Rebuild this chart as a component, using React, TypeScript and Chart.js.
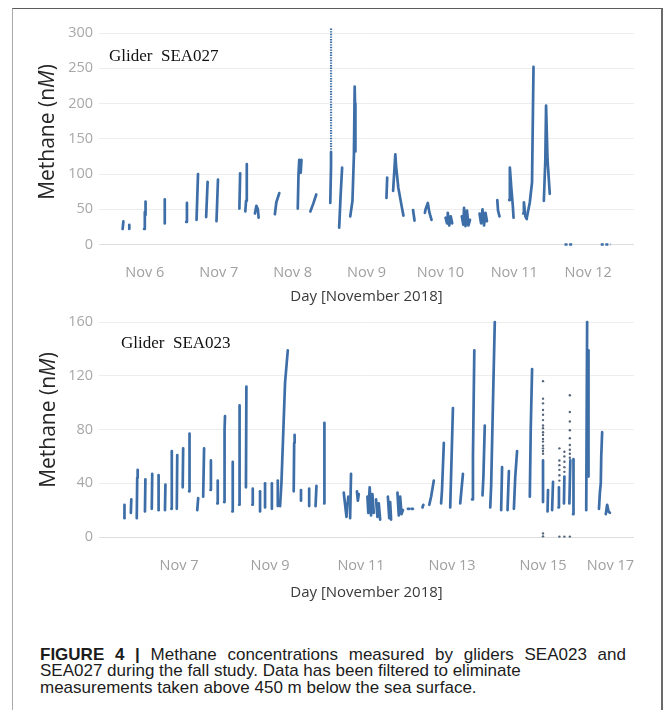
import { useEffect, useRef } from 'react';
import { Chart, registerables } from 'chart.js';

Chart.register(...registerables);

type Pt = [number, number];

// Glider SEA027 — each profile is a polyline of [day of November 2018, methane nM]
const sea027Profiles: Pt[][] = [
  [[5.70, 22], [5.71, 33]],
  [[5.79, 22], [5.79, 28]],
  [[5.99, 22], [6.00, 46], [6.01, 42], [6.01, 61]],
  [[6.27, 30], [6.27, 64]],
  [[6.56, 32], [6.57, 59]],
  [[6.70, 35], [6.72, 100]],
  [[6.83, 39], [6.85, 89]],
  [[6.97, 33], [6.99, 92]],
  [[7.28, 51], [7.29, 101]],
  [[7.36, 47], [7.37, 62], [7.38, 114]],
  [[7.49, 44], [7.51, 55], [7.53, 50], [7.54, 38]],
  [[7.76, 43], [7.78, 60], [7.82, 73]],
  [[8.07, 51], [8.08, 100], [8.09, 120], [8.11, 102], [8.12, 120]],
  [[8.24, 47], [8.28, 58], [8.32, 71]],
  [[8.51, 59], [8.52, 112], [8.52, 131]],
  [[8.63, 24], [8.65, 70], [8.67, 109]],
  [[8.78, 40], [8.81, 62], [8.83, 128], [8.84, 224], [8.845, 200], [8.85, 132]],
  [[9.27, 66], [9.28, 95]],
  [[9.36, 76], [9.39, 128], [9.40, 112], [9.43, 81], [9.48, 52], [9.50, 41]],
  [[9.63, 49], [9.65, 34]],
  [[9.79, 45], [9.80, 50], [9.83, 59], [9.85, 46], [9.88, 35]],
  [[10.07, 38], [10.09, 30], [10.10, 45], [10.12, 27], [10.14, 40], [10.16, 30]],
  [[10.29, 40], [10.31, 28], [10.32, 52], [10.34, 26], [10.36, 48], [10.38, 27], [10.40, 35]],
  [[10.53, 44], [10.55, 30], [10.57, 50], [10.59, 27], [10.61, 45], [10.63, 33]],
  [[10.77, 63], [10.78, 48], [10.80, 40]],
  [[10.93, 63], [10.94, 109], [10.96, 80], [10.98, 55], [10.99, 38]],
  [[11.12, 44], [11.13, 60], [11.15, 40], [11.17, 36]],
  [[11.17, 38], [11.21, 60], [11.24, 88], [11.26, 252]],
  [[11.40, 62], [11.42, 120], [11.43, 197], [11.45, 120], [11.48, 72]],
];
// sparse samples high in the water column, drawn dotted
const sea027Dotted: Pt[][] = [[[8.52, 131], [8.52, 308]]];
// readings logged as zero near the end of the mission
const sea027ZeroRuns: Pt[][] = [
  [[11.68, 0], [11.80, 0]],
  [[12.17, 0], [12.30, 0]],
];
const sea027DayTicks = [6, 7, 8, 9, 10, 11, 12];
const sea027MethaneTicks = [0, 50, 100, 150, 200, 250, 300];

// Glider SEA023
const sea023Profiles: Pt[][] = [
  [[5.80, 14], [5.80, 24]],
  [[5.94, 18], [5.95, 28]],
  [[6.07, 14], [6.08, 44], [6.09, 50]],
  [[6.25, 19], [6.26, 43]],
  [[6.40, 21], [6.41, 47]],
  [[6.55, 20], [6.55, 46]],
  [[6.69, 20], [6.70, 39]],
  [[6.83, 21], [6.84, 64]],
  [[6.95, 21], [6.96, 61]],
  [[7.08, 37], [7.09, 66]],
  [[7.22, 34], [7.23, 77]],
  [[7.40, 20], [7.42, 29]],
  [[7.53, 30], [7.55, 66]],
  [[7.69, 35], [7.70, 57]],
  [[7.84, 25], [7.85, 42]],
  [[7.99, 26], [8.00, 80], [8.01, 90]],
  [[8.17, 19], [8.18, 56]],
  [[8.32, 24], [8.33, 98]],
  [[8.47, 37], [8.48, 112]],
  [[8.61, 24], [8.62, 36]],
  [[8.78, 19], [8.78, 34]],
  [[8.89, 22], [8.89, 40]],
  [[9.04, 21], [9.04, 40]],
  [[9.17, 23], [9.17, 42]],
  [[9.22, 23], [9.25, 40], [9.33, 115], [9.39, 139]],
  [[9.52, 34], [9.53, 70], [9.54, 76]],
  [[9.68, 27], [9.68, 35]],
  [[9.86, 23], [9.86, 36]],
  [[10.00, 23], [10.02, 38]],
  [[10.19, 25], [10.19, 50], [10.20, 85]],
  [[10.62, 33], [10.65, 24], [10.68, 15], [10.72, 30]],
  [[10.76, 14], [10.78, 47]],
  [[10.91, 34], [10.93, 27], [10.95, 32]],
  [[11.14, 30], [11.16, 18], [11.19, 37], [11.22, 16], [11.25, 32], [11.28, 18]],
  [[11.33, 28], [11.36, 15], [11.39, 25], [11.42, 13]],
  [[11.59, 30], [11.62, 14], [11.64, 26], [11.66, 13]],
  [[11.80, 33], [11.83, 16], [11.86, 30], [11.89, 17], [11.92, 20]],
  [[12.03, 21], [12.06, 21]],
  [[12.11, 21], [12.14, 21]],
  [[12.35, 22], [12.37, 24]],
  [[12.50, 24], [12.54, 30], [12.60, 42]],
  [[12.76, 25], [12.78, 35], [12.82, 70]],
  [[12.96, 22], [13.02, 96]],
  [[13.18, 25], [13.24, 47]],
  [[13.44, 28], [13.46, 60], [13.49, 139]],
  [[13.67, 31], [13.69, 45], [13.72, 83]],
  [[13.84, 22], [13.86, 38], [13.90, 100], [13.94, 160]],
  [[14.08, 20], [14.10, 52]],
  [[14.22, 20], [14.25, 49]],
  [[14.36, 21], [14.39, 45], [14.43, 64]],
  [[14.71, 30], [14.73, 80], [14.76, 125]],
  [[15.00, 26], [15.00, 57]],
  [[15.10, 19], [15.11, 35]],
  [[15.20, 20], [15.22, 41]],
  [[15.34, 22], [15.35, 37]],
  [[15.46, 25], [15.47, 45]],
  [[15.58, 25], [15.60, 57]],
  [[15.66, 17], [15.67, 58]],
  [[15.95, 20], [15.97, 160]],
  [[16.00, 45], [16.00, 139]],
  [[16.23, 21], [16.25, 33], [16.27, 40], [16.28, 60], [16.30, 78]],
  [[16.38, 17], [16.41, 24], [16.44, 19], [16.47, 18]],
];
// isolated samples around Nov 15
const sea023Scatter: Pt[] = [
  [15.0, 116], [15.0, 103], [15.0, 99.5], [15.0, 94.5], [15.0, 91], [15.0, 87],
  [15.0, 83], [15.0, 81], [15.0, 78], [15.0, 76], [15.0, 73], [15.0, 71],
  [15.0, 68], [15.0, 66], [15.0, 64], [15.0, 62], [15.0, 2.7], [15.0, 0.5],
  [15.36, 66], [15.36, 57], [15.36, 53.5], [15.36, 50], [15.36, 46], [15.36, 42], [15.36, 0.3],
  [15.47, 63.5], [15.47, 60], [15.47, 56], [15.47, 52], [15.47, 48.5], [15.47, 0.3],
  [15.59, 105.5], [15.59, 93], [15.59, 86], [15.59, 79.5], [15.59, 73.5], [15.59, 68.5],
  [15.59, 65], [15.59, 62], [15.59, 59], [15.59, 0.3],
];
const sea023DayTicks = [7, 9, 11, 13, 15, 17];
const sea023MethaneTicks = [0, 40, 80, 120, 160];

const LINE_BLUE = '#3d6ea7';
const DOT_GREY = '#55667c';
const SANS = "'Open Sans', 'Noto Sans', sans-serif";

interface PanelProps {
  profiles: Pt[][];
  dotted: Pt[][];
  dashed: Pt[][];
  dots: Pt[];
  dayTicks: number[];
  methaneTicks: number[];
  dayRange: [number, number];
  methaneRange: [number, number];
  tickAlign: 'center' | 'inner';
  canvasTop: number;
  areaTop: number;
  xAxisHeight: number;
  tickPad: number;
  titlePad: number;
  yTitleX: number;
  yTitleY: number;
}

const CANVAS_W = 646;
const CANVAS_H = 300;

function MethanePanel(p: PanelProps) {
  const ref = useRef<HTMLCanvasElement | null>(null);

  useEffect(() => {
    if (!ref.current) return;
    const toXY = (pts: Pt[]) => pts.map(([x, y]) => ({ x, y }));
    const datasets: any[] = [
      ...p.profiles.map((prof) => ({
        data: toXY(prof),
        showLine: true,
        borderColor: LINE_BLUE,
        borderWidth: 2.7,
        borderCapStyle: 'round',
        borderJoinStyle: 'round',
        pointRadius: 0,
        tension: 0,
      })),
      ...p.dotted.map((prof) => ({
        data: toXY(prof),
        showLine: true,
        borderColor: LINE_BLUE,
        borderWidth: 2.2,
        borderDash: [1.4, 1.2],
        pointRadius: 0,
      })),
      ...p.dashed.map((prof) => ({
        data: toXY(prof),
        showLine: true,
        borderColor: LINE_BLUE,
        borderWidth: 2.4,
        borderDash: [3, 1.6],
        pointRadius: 0,
      })),
      {
        data: toXY(p.dots),
        showLine: false,
        pointRadius: 1.2,
        pointBackgroundColor: DOT_GREY,
        pointBorderWidth: 0,
      },
    ];

    const [dMin, dMax] = p.dayRange;
    const methaneTitle = {
      id: 'methaneTitle',
      afterDraw(chart: any) {
        const ctx = chart.ctx as CanvasRenderingContext2D;
        const parts: [string, string][] = [
          ['Methane (n', 'normal'],
          ['M', 'italic'],
          [')', 'normal'],
        ];
        const fontFor = (style: string) => `${style} 400 21px ${SANS}`;
        let total = 0;
        for (const [txt, style] of parts) {
          ctx.font = fontFor(style);
          total += ctx.measureText(txt).width;
        }
        ctx.save();
        ctx.translate(p.yTitleX, p.yTitleY);
        ctx.rotate(-Math.PI / 2);
        ctx.fillStyle = '#262626';
        ctx.textBaseline = 'middle';
        ctx.textAlign = 'left';
        let x = -total / 2;
        for (const [txt, style] of parts) {
          ctx.font = fontFor(style);
          ctx.fillText(txt, x, 0);
          x += ctx.measureText(txt).width;
        }
        ctx.restore();
      },
    };

    const chart = new Chart(ref.current, {
      type: 'scatter',
      data: { datasets },
      plugins: [methaneTitle],
      options: {
        animation: false,
        responsive: false,
        maintainAspectRatio: false,
        events: [],
        layout: { padding: { top: p.areaTop, right: 26, bottom: 0, left: 0 } },
        plugins: { legend: { display: false }, tooltip: { enabled: false } },
        scales: {
          x: {
            type: 'linear',
            position: 'bottom',
            min: dMin,
            max: dMax,
            afterBuildTicks: (s: any) => {
              s.ticks = [{ value: dMin }, ...p.dayTicks.map((v) => ({ value: v }))];
            },
            afterFit: (s: any) => {
              s.height = p.xAxisHeight;
              s.paddingLeft = 0;
              s.paddingRight = 0;
              s.paddingTop = 0;
              s.paddingBottom = 0;
            },
            grid: { display: false },
            border: { display: false },
            ticks: {
              autoSkip: false,
              maxRotation: 0,
              align: p.tickAlign,
              padding: p.tickPad,
              color: '#a0a0a0',
              font: { family: SANS, size: 14.5 },
              callback: (v: any) => (v === dMin ? '' : `Nov ${v}`),
            },
            title: {
              display: true,
              text: 'Day [November 2018]',
              color: '#3a3a3a',
              font: { family: SANS, size: 15 },
              padding: { top: 0, bottom: p.titlePad },
            },
          },
          y: {
            type: 'linear',
            min: p.methaneRange[0],
            max: p.methaneRange[1],
            afterBuildTicks: (s: any) => {
              s.ticks = p.methaneTicks.map((v) => ({ value: v }));
            },
            afterFit: (s: any) => {
              s.width = 85;
              s.paddingTop = 0;
              s.paddingBottom = 0;
              s.paddingLeft = 0;
              s.paddingRight = 0;
            },
            grid: {
              drawTicks: false,
              color: (c: any) => (c.tick && c.tick.value === 0 ? '#dedede' : '#ededed'),
              lineWidth: 1,
            },
            border: { display: false },
            ticks: {
              padding: 6,
              color: '#a8a8a8',
              font: { family: SANS, size: 14.5 },
              callback: (v: any) => String(v),
            },
          },
        },
      } as any,
    });
    return () => chart.destroy();
  }, []);

  return (
    <canvas
      ref={ref}
      width={CANVAS_W}
      height={CANVAS_H}
      style={{ position: 'absolute', left: 14, top: p.canvasTop, width: CANVAS_W, height: CANVAS_H }}
    />
  );
}

const gliderLabel: React.CSSProperties = {
  position: 'absolute',
  font: "17px 'Liberation Serif', 'Times New Roman', serif",
  lineHeight: '17px',
  color: '#111',
  whiteSpace: 'pre',
};

export default function App() {
  return (
    <div
      style={{
        position: 'absolute',
        left: 0,
        top: 0,
        width: 663,
        height: 710,
        overflow: 'hidden',
        background: '#fff',
      }}
    >
      <div
        style={{
          position: 'absolute',
          left: 12,
          top: 8,
          width: 651,
          height: 720,
          boxSizing: 'border-box',
          borderTop: '1.5px solid #5c5c5c',
          borderLeft: '1.5px solid #a9a9a9',
          borderRight: '2px solid #6a6a6a',
        }}
      />
      <MethanePanel
        profiles={sea027Profiles}
        dotted={sea027Dotted}
        dashed={sea027ZeroRuns}
        dots={[]}
        dayTicks={sea027DayTicks}
        methaneTicks={sea027MethaneTicks}
        dayRange={[5.38, 12.62]}
        methaneRange={[-10.6, 310]}
        tickAlign="center"
        canvasTop={10}
        areaTop={16}
        xAxisHeight={58}
        tickPad={4.3}
        titlePad={4}
        yTitleX={34}
        yTitleY={122}
      />
      <MethanePanel
        profiles={sea023Profiles}
        dotted={[]}
        dashed={[]}
        dots={sea023Scatter}
        dayTicks={sea023DayTicks}
        methaneTicks={sea023MethaneTicks}
        dayRange={[5.24, 17]}
        methaneRange={[-5.2, 164.5]}
        tickAlign="inner"
        canvasTop={312}
        areaTop={4}
        xAxisHeight={68}
        tickPad={5.3}
        titlePad={10}
        yTitleX={35.5}
        yTitleY={108}
      />
      <div style={{ ...gliderLabel, left: 109, top: 46.5 }}>{'Glider  SEA027'}</div>
      <div style={{ ...gliderLabel, left: 121, top: 334 }}>{'Glider  SEA023'}</div>
      <div
        style={{
          position: 'absolute',
          left: 40,
          top: 647,
          font: "17px 'Liberation Sans', Arial, sans-serif",
          lineHeight: '16.3px',
          color: '#1c1c1c',
          whiteSpace: 'nowrap',
        }}
      >
        <div style={{ width: 586, textAlign: 'justify', textAlignLast: 'justify' }}>
          <b>FIGURE 4 |</b> Methane concentrations measured by gliders SEA023 and
        </div>
        <div>SEA027 during the fall study. Data has been filtered to eliminate</div>
        <div>measurements taken above 450 m below the sea surface.</div>
      </div>
    </div>
  );
}
